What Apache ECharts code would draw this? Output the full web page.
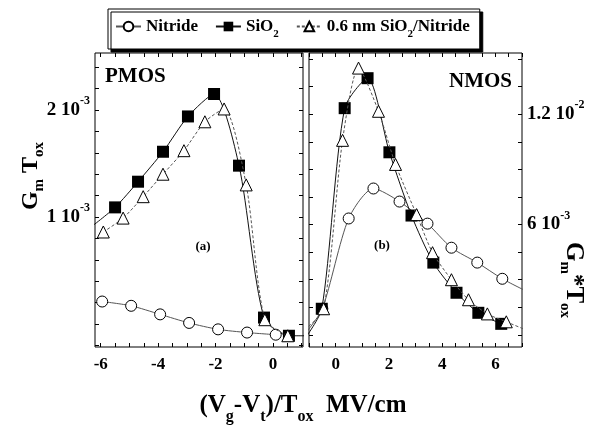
<!DOCTYPE html>
<html><head><meta charset="utf-8">
<script src="https://cdn.jsdelivr.net/npm/echarts@6/dist/echarts.min.js"></script>
<style>html,body{margin:0;padding:0;background:#fff}#c{width:598px;height:428px}</style>
</head><body><div id="c"></div>
<script>
// ---- data: [x (MV/cm), Gm*Tox in units of 1e-3] ----
const pmosNitride = [[-5.95,0.21],[-4.94,0.17],[-3.93,0.09],[-2.92,0.01],[-1.91,-0.05],[-0.90,-0.08],[0.10,-0.10]];
const pmosSiO2 = [[-6.37,0.90],[-5.50,1.09],[-4.70,1.33],[-3.83,1.61],[-2.96,1.94],[-2.05,2.15],[-1.18,1.48],[-0.31,0.06],[0.56,-0.11],[1.40,-0.11]];
const pmosTri = [[-5.91,0.86],[-5.22,0.99],[-4.52,1.19],[-3.83,1.40],[-3.10,1.62],[-2.37,1.89],[-1.70,2.01],[-0.93,1.30],[-0.28,0.04],[0.52,-0.11]];

const nmosNitride = [[-1.15,0.05],[-0.50,1.42],[0.49,6.33],[1.42,7.96],[2.40,7.25],[3.45,6.05],[4.35,4.74],[5.32,3.93],[6.26,3.05],[7.20,2.35]];
const nmosSiO2 = [[-1.15,-0.20],[-0.52,1.42],[0.34,12.33],[1.20,13.96],[2.02,9.93],[2.85,6.49],[3.67,3.93],[4.54,2.29],[5.36,1.20],[6.22,0.60]];
const nmosTri = [[-1.15,0.30],[-0.45,1.42],[0.26,10.58],[0.86,14.51],[1.61,12.16],[2.25,9.27],[3.04,6.54],[3.64,4.47],[4.35,3.00],[4.99,1.91],[5.70,1.14],[6.41,0.71],[7.10,0.30]];

const seriesNames = ['Nitride', 'SiO2', '0.6 nm SiO2/Nitride'];

// tick labels
const pmosXLabels = [-6, -4, -2, 0];
const nmosXLabels = [0, 2, 4, 6];
const pmosYLabels = [1, 2];
const pmosYMant = ['1 10', '2 10'];
const pmosYExp = ['-3', '-3'];
const nmosYLabels = [6, 12];
const nmosYMant = ['6 10', '1.2 10'];
const nmosYExp = ['-3', '-2'];

const FONT = "'Liberation Serif', 'Times New Roman', serif";

function range(a, b, s) { const r = []; for (let v = a; v <= b + 1e-9; v += s) r.push(Math.round(v * 1000) / 1000); return r; }

function xAxis(grid, pos, min, max, ticks, labels) {
  return {
    type: 'value', gridIndex: grid, position: pos, min: min, max: max,
    axisLine: { show: false, onZero: false },
    splitLine: { show: false },
    axisTick: { show: true, inside: true, length: 4, customValues: ticks, lineStyle: { color: '#000', width: 1 } },
    axisLabel: labels ? { show: true, customValues: labels, margin: 9, color: '#000', fontFamily: FONT, fontWeight: 'bold', fontSize: 17 } : { show: false }
  };
}
function yAxis(grid, pos, min, max, ticks, labels, mant, exp) {
  return {
    type: 'value', gridIndex: grid, position: pos, min: min, max: max,
    axisLine: { show: false, onZero: false },
    splitLine: { show: false },
    axisTick: { show: true, inside: true, length: 4, customValues: ticks, lineStyle: { color: '#000', width: 1 } },
    axisLabel: labels ? {
      show: true, customValues: labels, margin: 5,
      formatter: function (v) {
        for (let i = 0; i < labels.length; i++) if (Math.abs(v - labels[i]) < 1e-6) return '{b|' + mant[i] + '}{s|' + exp[i] + '}';
        return '';
      },
      rich: {
        b: { color: '#000', fontFamily: FONT, fontWeight: 'bold', fontSize: 19 },
        s: { color: '#000', fontFamily: FONT, fontWeight: 'bold', fontSize: 12, padding: [0, 0, 18, 0] }
      }
    } : { show: false }
  };
}

const pmX = [-6.2, 1.05], nmX = [-1, 7];
const pmY = [-0.215, 2.533], nmY = [-0.66, 15.33];

function mkSeries(name, data, xi, yi) {
  const s = { name: name, type: 'line', data: data, xAxisIndex: xi, yAxisIndex: yi, smooth: 0.25, clip: true, symbolKeepAspect: true, z: 2 };
  if (name === seriesNames[0]) {
    Object.assign(s, { symbol: 'circle', symbolSize: 11, itemStyle: { color: '#fff', borderColor: '#000', borderWidth: 1 }, lineStyle: { color: '#555', width: 1 } });
  } else if (name === seriesNames[1]) {
    Object.assign(s, { symbol: 'rect', symbolSize: 12, itemStyle: { color: '#000', borderColor: '#000', borderWidth: 0 }, lineStyle: { color: '#111', width: 1 } });
  } else {
    Object.assign(s, { symbol: 'triangle', symbolSize: 12, itemStyle: { color: '#fff', borderColor: '#000', borderWidth: 1 }, lineStyle: { color: '#555', width: 1, type: [3, 2] }, z: 3 });
  }
  return s;
}

const chart = echarts.init(document.getElementById('c'), null, { renderer: 'canvas' });
chart.setOption({
  animation: false,
  backgroundColor: '#fff',
  legend: {
    data: seriesNames, left: 108, top: 9, orient: 'horizontal',
    padding: [9, 10, 9, 7], itemGap: 17, itemWidth: 25, itemHeight: 12,
    borderColor: '#000', borderWidth: 1, backgroundColor: '#fff',
    shadowColor: '#000', shadowBlur: 0, shadowOffsetX: 3, shadowOffsetY: 3,
    formatter: function (n) {
      return n.split('SiO2').map(p => p ? '{n|' + p + '}' : '').join('{n|SiO}{s|2}');
    },
    textStyle: {
      rich: {
        n: { color: '#000', fontFamily: FONT, fontWeight: 'bold', fontSize: 17 },
        s: { color: '#000', fontFamily: FONT, fontWeight: 'bold', fontSize: 11, padding: [16, 0, 0, 0] }
      }
    }
  },
  grid: [
    { left: 95, top: 53, width: 208, height: 294, show: true, borderColor: '#000', borderWidth: 1, backgroundColor: 'transparent', containLabel: false, outerBoundsMode: 'none' },
    { left: 309, top: 53, width: 213, height: 294, show: true, borderColor: '#000', borderWidth: 1, backgroundColor: 'transparent', containLabel: false, outerBoundsMode: 'none' }
  ],
  xAxis: [
    xAxis(0, 'bottom', pmX[0], pmX[1], range(-6, 1, 0.5), pmosXLabels),
    xAxis(0, 'top', pmX[0], pmX[1], range(-6, 1, 0.5), null),
    xAxis(1, 'bottom', nmX[0], nmX[1], range(-1, 7, 0.5), nmosXLabels),
    xAxis(1, 'top', nmX[0], nmX[1], range(-1, 7, 0.5), null)
  ],
  yAxis: [
    yAxis(0, 'left', pmY[0], pmY[1], range(-0.2, 2.4, 0.2), pmosYLabels, pmosYMant, pmosYExp),
    yAxis(0, 'right', pmY[0], pmY[1], range(-0.2, 2.4, 0.2), null),
    yAxis(1, 'left', nmY[0], nmY[1], range(0, 15, 1.5), null),
    yAxis(1, 'right', nmY[0], nmY[1], range(0, 15, 1.5), nmosYLabels, nmosYMant, nmosYExp)
  ],
  series: [
    mkSeries(seriesNames[0], pmosNitride, 0, 0),
    mkSeries(seriesNames[1], pmosSiO2, 0, 0),
    mkSeries(seriesNames[2], pmosTri, 0, 0),
    mkSeries(seriesNames[0], nmosNitride, 2, 3),
    mkSeries(seriesNames[1], nmosSiO2, 2, 3),
    mkSeries(seriesNames[2], nmosTri, 2, 3)
  ],
  graphic: [
    { type: 'text', left: 105, top: 66, style: { text: 'PMOS', fill: '#000', font: "bold 21px 'Liberation Serif', serif" } },
    { type: 'text', right: 86, top: 71, style: { text: 'NMOS', fill: '#000', font: "bold 21px 'Liberation Serif', serif" } },
    { type: 'text', x: 203, y: 247, style: { text: '(a)', fill: '#000', font: "bold 13px 'Liberation Serif', serif", align: 'center', verticalAlign: 'middle' } },
    { type: 'text', x: 382, y: 246, style: { text: '(b)', fill: '#000', font: "bold 13px 'Liberation Serif', serif", align: 'center', verticalAlign: 'middle' } },
    {
      type: 'text', x: 303, y: 406,
      style: {
        text: '{m|(V}{s|g}{m|-V}{s|t}{m|)/T}{s|ox}{m|  MV/cm}', align: 'center', verticalAlign: 'middle',
        rich: {
          m: { fill: '#000', fontFamily: FONT, fontWeight: 'bold', fontSize: 25 },
          s: { fill: '#000', fontFamily: FONT, fontWeight: 'bold', fontSize: 16, padding: [22, 0, 0, 0] }
        }
      }
    },
    {
      type: 'text', x: 31, y: 176, rotation: Math.PI / 2,
      style: {
        text: '{m|G}{s|m}{m| T}{s|ox}', align: 'center', verticalAlign: 'middle',
        rich: {
          m: { fill: '#000', fontFamily: FONT, fontWeight: 'bold', fontSize: 24 },
          s: { fill: '#000', fontFamily: FONT, fontWeight: 'bold', fontSize: 15, padding: [16, 0, 0, 0] }
        }
      }
    },
    {
      type: 'text', x: 573, y: 280, rotation: -Math.PI / 2,
      style: {
        text: '{m|G}{s|m}{m|*T}{s|ox}', align: 'center', verticalAlign: 'middle',
        rich: {
          m: { fill: '#000', fontFamily: FONT, fontWeight: 'bold', fontSize: 25 },
          s: { fill: '#000', fontFamily: FONT, fontWeight: 'bold', fontSize: 15, padding: [16, 0, 0, 0] }
        }
      }
    }
  ]
});
</script>
</body></html>
